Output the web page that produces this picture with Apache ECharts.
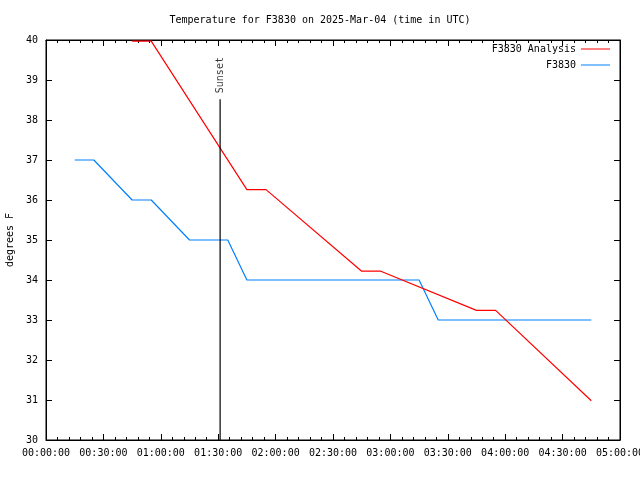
<!DOCTYPE html>
<html><head><meta charset="utf-8">
<script src="https://cdn.jsdelivr.net/npm/echarts@6/dist/echarts.min.js"></script>
<style>html,body{margin:0;padding:0;background:#fff}#c{width:640px;height:480px}</style>
</head><body><div id="c"></div>
<script>
const titleText = "Temperature for F3830 on 2025-Mar-04 (time in UTC)";
const yAxisName = "degrees F";
const xTickLabels = ["00:00:00","00:30:00","01:00:00","01:30:00","02:00:00","02:30:00","03:00:00","03:30:00","04:00:00","04:30:00","05:00:00"];
const analysisName = "F3830 Analysis";
const analysisTimes = ["00:45","00:55","01:45","01:55","02:45","02:55","03:45","03:55","04:45"];
const analysisValues = [39.97,39.97,36.26,36.26,34.22,34.22,33.24,33.24,30.98];
const obsName = "F3830";
const obsTimes = ["00:15","00:25","00:45","00:55","01:15","01:35","01:45","03:15","03:25","04:45"];
const obsValues = [37,37,36,36,35,35,34,34,33,33];
const sunsetTime = "01:31";
const sunsetBottom = 30;
const sunsetTop = 38.52;
const sunsetLabel = "Sunset";

function toMin(s){const p=s.split(":");return (+p[0])*60+(+p[1]);}
function pairs(t,v){return t.map((x,i)=>[toMin(x),v[i]]);}
const font = "DejaVu Sans Mono";
const ts = {fontFamily:font,fontSize:10,color:"#000"};

function xAx(pos, showLabel){
  return {type:"value",min:0,max:300,interval:30,position:pos,
    axisLine:{show:true,onZero:false,lineStyle:{color:"#000",width:1}},
    axisTick:{show:true,inside:true,length:6,lineStyle:{color:"#000",width:1}},
    minorTick:{show:true,splitNumber:5,length:3,lineStyle:{color:"#000",width:1}},
    splitLine:{show:false},minorSplitLine:{show:false},
    axisLabel:showLabel?{show:true,margin:8,fontFamily:font,fontSize:10,color:"#000",
      formatter:(v)=>xTickLabels[Math.round(v/30)]||""}:{show:false}};
}
function yAx(pos, showLabel){
  const a = {type:"value",min:30,max:40,interval:1,position:pos,
    axisLine:{show:true,onZero:false,lineStyle:{color:"#000",width:1}},
    axisTick:{show:true,inside:true,length:6,lineStyle:{color:"#000",width:1}},
    splitLine:{show:false},
    axisLabel:showLabel?{show:true,margin:8,fontFamily:font,fontSize:10,color:"#000"}:{show:false}};
  if(showLabel){a.name=yAxisName;a.nameLocation="middle";a.nameGap=30;a.nameTextStyle=ts;}
  return a;
}

const chart = echarts.init(document.getElementById("c"),null,{renderer:"canvas"});
chart.setOption({
  animation:false,
  backgroundColor:"#fff",
  title:{text:titleText,left:"center",top:10,textStyle:{fontFamily:font,fontSize:10,color:"#000",fontWeight:"normal"}},
  grid:{left:46,right:20,top:40,bottom:40,outerBoundsMode:"none",containLabel:false,
    show:true,borderColor:"#000",borderWidth:1,backgroundColor:"transparent"},
  legend:{orient:"vertical",right:30,top:43,padding:0,align:"right",icon:"rect",itemWidth:29,itemHeight:1,itemGap:4,
    textStyle:{fontFamily:font,fontSize:10,color:"#000",lineHeight:12},data:[analysisName,obsName]},
  xAxis:[xAx("bottom",true), xAx("top",false)],
  yAxis:[yAx("left",true), yAx("right",false)],
  series:[
    {name:analysisName,type:"line",symbol:"none",data:pairs(analysisTimes,analysisValues),
      lineStyle:{color:"#ff0000",width:1.2},itemStyle:{color:"#ff0000"},z:3},
    {name:obsName,type:"line",symbol:"none",data:pairs(obsTimes,obsValues),
      lineStyle:{color:"#0080ff",width:1.2},itemStyle:{color:"#0080ff"},z:2},
    {name:"sunset",type:"line",symbol:"none",
      data:[[toMin(sunsetTime),sunsetBottom],[toMin(sunsetTime),sunsetTop]],
      lineStyle:{color:"#000",width:1.2},z:4},
    {name:"sunsetLabel",type:"scatter",symbolSize:0,
      data:[[toMin(sunsetTime),sunsetTop]],
      label:{show:true,formatter:sunsetLabel,position:"top",distance:6,rotate:90,
        align:"left",verticalAlign:"middle",fontFamily:font,fontSize:10,color:"#000"},z:4}
  ]
});
</script></body></html>
